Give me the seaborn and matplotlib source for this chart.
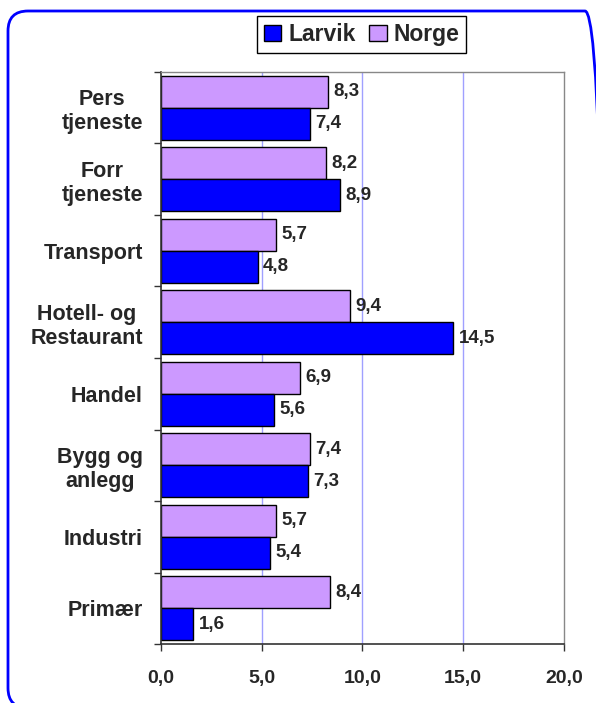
import matplotlib
matplotlib.use("Agg")
import matplotlib.pyplot as plt
import matplotlib.patches as mpatches
from matplotlib.ticker import FuncFormatter, FixedLocator
import pandas as pd
import seaborn as sns

# data
categories = ["Pers\ntjeneste", "Forr\ntjeneste", "Transport", "Hotell- og\nRestaurant",
              "Handel", "Bygg og\nanlegg", "Industri", "Primær"]
larvik = [7.4, 8.9, 4.8, 14.5, 5.6, 7.3, 5.4, 1.6]
norge = [8.3, 8.2, 5.7, 9.4, 6.9, 7.4, 5.7, 8.4]
x_ticks = [0, 5, 10, 15, 20]

df = pd.DataFrame({
    "kategori": categories * 2,
    "omrade": ["Norge"] * len(categories) + ["Larvik"] * len(categories),
    "verdi": norge + larvik,
})

sns.set_style("white")
plt.rcParams["font.family"] = ["Liberation Sans", "DejaVu Sans"]
plt.rcParams["font.weight"] = "bold"

colors = {"Larvik": "#0000FF", "Norge": "#CC99FF"}
comma = lambda v: f"{v:.1f}".replace(".", ",")

fig, ax = plt.subplots(figsize=(5.96, 7.03), dpi=100)
fig.subplots_adjust(left=0.270, right=0.946, top=0.8976, bottom=0.0839)

sns.barplot(data=df, y="kategori", x="verdi", hue="omrade", hue_order=["Norge", "Larvik"],
            palette=colors, saturation=1, orient="h", width=0.9, edgecolor="black",
            linewidth=1, legend=False, ax=ax)

# value labels
for cont, vals in zip(ax.containers, [norge, larvik]):
    ax.bar_label(cont, labels=[comma(v) for v in vals], padding=4,
                 fontsize=13.5, fontweight="bold")

ax.set_xlim(0, 20)
ax.set_xticks(x_ticks)
ax.xaxis.set_major_formatter(FuncFormatter(lambda v, p: comma(v)))
ax.tick_params(axis="x", direction="out", length=5, width=1, color="#333333",
               pad=14, labelsize=14, bottom=True)
ax.set_xlabel("")
ax.set_ylabel("")

# category labels right-aligned, lines centred; ticks between groups
ax.tick_params(axis="y", which="major", length=0, pad=13, labelsize=15.5)
for lab in ax.get_yticklabels():
    lab.set_multialignment("center")
    lab.set_fontweight("bold")
ax.yaxis.set_minor_locator(FixedLocator([i - 0.5 for i in range(len(categories) + 1)]))
ax.tick_params(axis="y", which="minor", direction="out", length=5, width=1,
               color="#333333", left=True)

ax.grid(False)
for x in x_ticks[1:-1]:
    ax.axvline(x, color="#A0A0FF", lw=1, zorder=0)

for side in ["left", "bottom"]:
    ax.spines[side].set_color("#333333")
    ax.spines[side].set_linewidth(1.2)
for side in ["top", "right"]:
    ax.spines[side].set_color("#888888")
    ax.spines[side].set_linewidth(1)

handles = [mpatches.Patch(facecolor=colors["Larvik"], edgecolor="black", label="Larvik"),
           mpatches.Patch(facecolor=colors["Norge"], edgecolor="black", label="Norge")]
leg = fig.legend(handles=handles, loc="center", bbox_to_anchor=(0.607, 0.951), ncol=2,
                 prop={"size": 16.5, "weight": "bold"}, frameon=True, fancybox=False,
                 edgecolor="black", framealpha=1, borderpad=0.3, handlelength=0.75,
                 handleheight=0.75, handletextpad=0.3, columnspacing=0.6, borderaxespad=0)
leg.get_frame().set_linewidth(1)

# rounded blue border around the chart, running off the right and bottom edges
border = mpatches.FancyBboxPatch((0.08, -0.05), 5.97, 6.97,
                                 boxstyle="round,pad=0,rounding_size=0.2",
                                 transform=fig.dpi_scale_trans, fill=False,
                                 edgecolor="#0000FF", linewidth=2, clip_on=False)
fig.add_artist(border)

fig.savefig("out.png", dpi=100)
